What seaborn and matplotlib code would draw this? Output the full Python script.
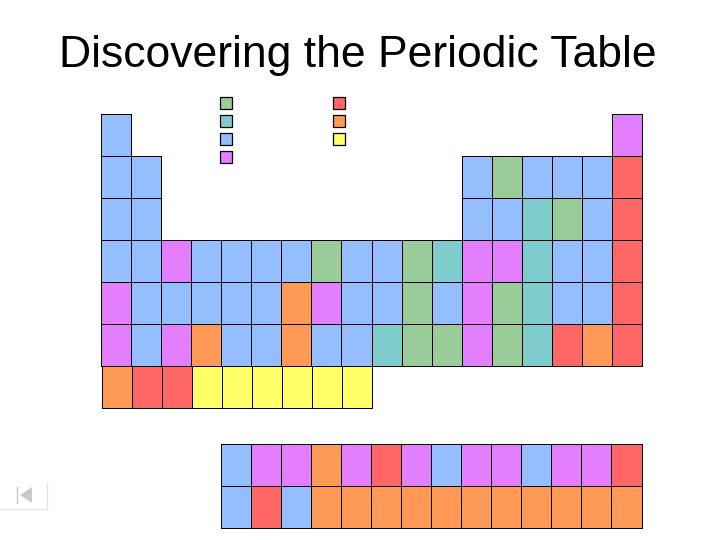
import matplotlib
matplotlib.use("Agg")
import matplotlib.pyplot as plt
from matplotlib.colors import ListedColormap
from matplotlib.patches import Polygon, Rectangle
from matplotlib.lines import Line2D
import numpy as np
import seaborn as sns

TITLE = "Discovering the Periodic Table"
CATEGORY_COLORS = {"G": "#99CC99", "T": "#7FCCCC", "B": "#94BEFF", "P": "#E37EFF",
                   "R": "#FF6666", "O": "#FF9955", "Y": "#FFFF66"}
CODES = list(CATEGORY_COLORS)

row1 = "B................P"
row2 = "BB..........BGBBBR"
row3 = "BB..........BBTGBR"
row4 = "BBPBBBBGBBGTPPTBBR"
row5 = "PBBBBBOPBBGBPGTBBR"
row6 = "PBPOBBOBBTGGPGTROR"
row7 = "ORRYYYYYY"
lanthanides = "BPPOPRPBPPBPPR"
actinides = "BRBOOOOOOOOOOO"
legend_left = "GTBP"
legend_right = "ROY"

W, H = 720, 540
sns.set_theme(style="white")
plt.rcParams["font.family"] = ["Liberation Sans", "DejaVu Sans"]
fig = plt.figure(figsize=(W / 100, H / 100), dpi=100, facecolor="white")
cmap = ListedColormap([CATEGORY_COLORS[c] for c in CODES])


def encode(rows):
    return np.array([[CODES.index(c) if c != "." else np.nan for c in r] for r in rows], dtype=float)


def table(rows, x0, y0, x1, y1, lw=0.6):
    ax = fig.add_axes([x0 / W, 1 - y1 / H, (x1 - x0) / W, (y1 - y0) / H])
    data = encode(rows)
    sns.heatmap(data, ax=ax, cmap=cmap, vmin=-0.5, vmax=len(CODES) - 0.5, cbar=False,
                linewidths=lw, linecolor="black",
                xticklabels=False, yticklabels=False, mask=np.isnan(data))
    mesh = ax.collections[0]
    mesh.set_clip_on(False)
    edges = np.zeros((data.size, 4))
    edges[:, 3] = (~np.isnan(data)).ravel().astype(float)
    mesh.set_edgecolor(edges)
    ax.patch.set_alpha(0)
    return ax


table([row1, row2, row3, row4, row5, row6], 101, 114, 642, 366)
table([row7], 102, 366, 372, 408)
table([lanthanides, actinides], 220.5, 444, 641.5, 528)

# legend swatches
overlay = fig.add_axes([0, 0, 1, 1])
overlay.set_xlim(0, W)
overlay.set_ylim(H, 0)
overlay.axis("off")
for x, codes in ((220.0, legend_left), (333.0, legend_right)):
    for i, c in enumerate(codes):
        overlay.add_patch(Rectangle((x, 96.5 + 18 * i), 12, 12, fc=CATEGORY_COLORS[c], ec="black", lw=0.9, joinstyle="miter"))

# back-navigation button
overlay.add_line(Line2D([0, 47, 47], [509, 509, 483], color="#E4E4E4", lw=1))
overlay.add_line(Line2D([16.5, 16.5], [487, 503], color="#C8C8C8", lw=1))
overlay.add_patch(Polygon([[20, 495], [32, 487], [32, 503]], fc="#C8C8C8", ec="none"))

fig.text(358 / W, 1 - 55.5 / H, TITLE, ha="center", va="center", fontsize=32, color="black")
fig.savefig("out.png", dpi=100)
